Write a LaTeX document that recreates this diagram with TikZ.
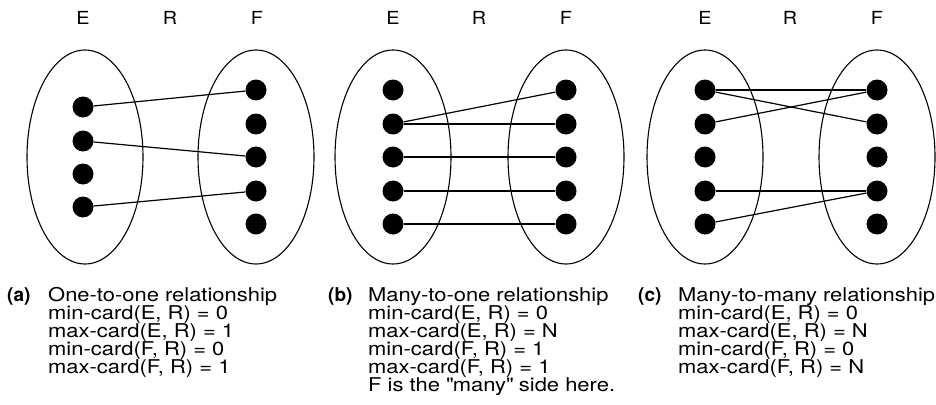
\documentclass[tikz,border=0pt]{standalone}
\usepackage{fontspec}
\setmainfont{TeX Gyre Heros}
\newfontfamily\widefont[FakeStretch=1.155]{TeX Gyre Heros}
\newfontfamily\lblfont[FakeStretch=1.1]{TeX Gyre Heros}
\usetikzlibrary{shapes.geometric}
\begin{document}
\begin{tikzpicture}[x=1pt,y=-1pt,
  dot/.style={circle,fill=black,draw=none,inner sep=0pt,minimum size=21pt},
  setbox/.style={draw,ellipse,line width=1.1pt,inner sep=0pt,minimum width=116pt,minimum height=214pt},
  link/.style={line width=1.2pt},
  lbl/.style={font=\lblfont\fontsize{18}{20}\selectfont,anchor=base,inner sep=0pt},
  capline/.style={font=\widefont\fontsize{19}{18}\selectfont,anchor=base west,inner sep=0pt,text height=14pt,text depth=3pt},
  tag/.style={font=\fontsize{19}{18}\selectfont\bfseries,anchor=base west,inner sep=0pt,text height=14pt,text depth=3pt}]
\useasboundingbox (0,0) rectangle (936,404);

% ---------- panel (a) ----------
\node[lbl] (aLE) at (83,25) {E};
\node[lbl] (aLR) at (170,25) {R};
\node[lbl] (aLF) at (257,25) {F};
\node[setbox] (aSE) at (85,157) {};
\node[setbox] (aSF) at (256,157) {};
\foreach \i/\y in {1/107,2/141,3/174,4/207} \node[dot] (aE\i) at (83,\y) {};
\foreach \i/\y in {1/90,2/124,3/157,4/191,5/224} \node[dot] (aF\i) at (256,\y) {};
\draw[link] (aE1) -- (aF1);
\draw[link] (aE2) -- (aF3);
\draw[link] (aE4) -- (aF4);
\node[tag] (aT) at (7,301) {(a)};
\node[capline] (a1) at (48,301) {One-to-one relationship};
\node[capline] (a2) at (48,319) {min-card(E, R) = 0};
\node[capline] (a3) at (48,337) {max-card(E, R) = 1};
\node[capline] (a4) at (48,355) {min-card(F, R) = 0};
\node[capline] (a5) at (48,373) {max-card(F, R) = 1};

% ---------- panel (b) ----------
\node[lbl] (bLE) at (393,25) {E};
\node[lbl] (bLR) at (479,25) {R};
\node[lbl] (bLF) at (566,25) {F};
\node[setbox] (bSE) at (393,157) {};
\node[setbox] (bSF) at (566,157) {};
\foreach \i/\y in {1/90,2/124,3/157,4/191,5/224} \node[dot] (bE\i) at (393,\y) {};
\foreach \i/\y in {1/90,2/124,3/157,4/191,5/224} \node[dot] (bF\i) at (566,\y) {};
\draw[link] (bE2) -- (bF1);
\draw[link] (bE2) -- (bF2);
\draw[link] (bE3) -- (bF3);
\draw[link] (bE4) -- (bF4);
\draw[link] (bE5) -- (bF5);
\node[tag] (bT) at (328,301) {(b)};
\node[capline] (b1) at (368,301) {Many-to-one relationship};
\node[capline] (b2) at (368,319) {min-card(E, R) = 0};
\node[capline] (b3) at (368,337) {max-card(E, R) = N};
\node[capline] (b4) at (368,355) {min-card(F, R) = 1};
\node[capline] (b5) at (368,373) {max-card(F, R) = 1};
\node[capline] (b6) at (368,391) {F is the \textquotedbl many\textquotedbl\ side here.};

% ---------- panel (c) ----------
\node[lbl] (cLE) at (705,25) {E};
\node[lbl] (cLR) at (790,25) {R};
\node[lbl] (cLF) at (877,25) {F};
\node[setbox] (cSE) at (705,157) {};
\node[setbox] (cSF) at (877,157) {};
\foreach \i/\y in {1/90,2/124,3/157,4/191,5/224} \node[dot] (cE\i) at (705,\y) {};
\foreach \i/\y in {1/90,2/124,3/157,4/191,5/224} \node[dot] (cF\i) at (877,\y) {};
\draw[link] (cE1) -- (cF1);
\draw[link] (cE1) -- (cF2);
\draw[link] (cE2) -- (cF1);
\draw[link] (cE4) -- (cF4);
\draw[link] (cE5) -- (cF4);
\node[tag] (cT) at (638,301) {(c)};
\node[capline] (c1) at (678,301) {Many-to-many relationship};
\node[capline] (c2) at (678,319) {min-card(E, R) = 0};
\node[capline] (c3) at (678,337) {max-card(E, R) = N};
\node[capline] (c4) at (678,355) {min-card(F, R) = 0};
\node[capline] (c5) at (678,373) {max-card(F, R) = N};
\end{tikzpicture}
\end{document}
